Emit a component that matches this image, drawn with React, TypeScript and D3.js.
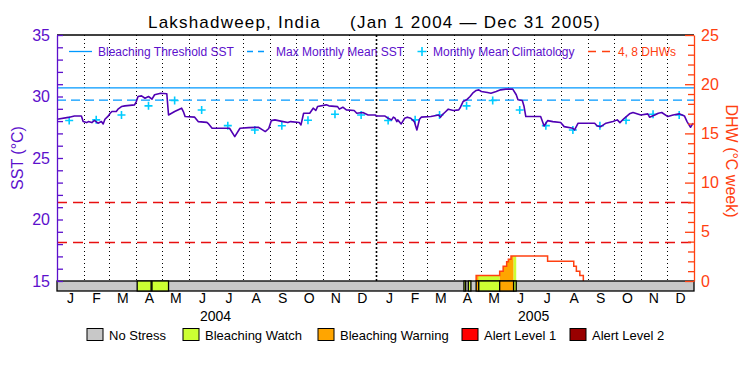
import React, { useRef, useEffect } from 'react';
import * as d3 from 'd3';

// daily SST at its turning points
const sstPoints: [string, number][] = [
  ['2004-01-01', 28.15], ['2004-01-14', 28.3], ['2004-01-21', 28.42], ['2004-01-29', 28.42],
  ['2004-01-31', 27.96], ['2004-02-04', 27.88], ['2004-02-06', 27.96], ['2004-02-10', 27.88],
  ['2004-02-13', 28.05], ['2004-02-17', 27.83], ['2004-02-21', 27.96], ['2004-02-23', 27.77],
  ['2004-02-25', 28.15], ['2004-02-29', 28.42], ['2004-03-02', 28.64], ['2004-03-04', 28.78],
  ['2004-03-09', 28.78], ['2004-03-11', 28.97], ['2004-03-15', 29.18], ['2004-03-19', 29.24],
  ['2004-03-30', 29.32], ['2004-04-01', 29.59], ['2004-04-03', 30.0], ['2004-04-07', 30.05],
  ['2004-04-11', 29.86], ['2004-04-15', 30.0], ['2004-04-19', 29.78], ['2004-04-22', 30.14],
  ['2004-04-29', 30.27], ['2004-05-06', 30.22], ['2004-05-08', 28.5], ['2004-05-15', 28.78],
  ['2004-05-23', 29.05], ['2004-05-25', 28.78], ['2004-05-27', 28.37], ['2004-06-07', 28.32],
  ['2004-06-11', 27.96], ['2004-06-21', 27.9], ['2004-06-23', 27.77], ['2004-06-27', 27.42],
  ['2004-07-17', 27.42], ['2004-07-23', 26.74], ['2004-07-29', 27.42], ['2004-08-08', 27.47],
  ['2004-08-19', 27.5], ['2004-08-23', 27.33], ['2004-08-27', 27.15], ['2004-08-31', 27.4],
  ['2004-09-03', 28.04], ['2004-09-07', 28.1], ['2004-09-15', 27.98], ['2004-09-22', 27.88],
  ['2004-09-25', 27.96], ['2004-10-05', 27.88], ['2004-10-07', 27.69], ['2004-10-10', 28.64],
  ['2004-10-17', 28.64], ['2004-10-21', 29.05], ['2004-10-24', 28.86], ['2004-10-26', 29.18],
  ['2004-11-05', 29.32], ['2004-11-08', 29.24], ['2004-11-18', 29.18], ['2004-11-20', 28.97],
  ['2004-11-24', 29.13], ['2004-11-28', 28.91], ['2004-12-07', 28.86], ['2004-12-10', 28.64],
  ['2004-12-17', 28.7], ['2004-12-23', 28.5], ['2004-12-31', 28.5],
  ['2005-01-02', 28.42], ['2005-01-11', 28.42], ['2005-01-15', 28.23], ['2005-01-19', 28.1],
  ['2005-01-21', 28.32], ['2005-01-23', 28.23], ['2005-01-25', 27.96], ['2005-01-26', 28.1],
  ['2005-01-30', 27.77], ['2005-02-03', 28.23], ['2005-02-06', 28.32], ['2005-02-10', 28.23],
  ['2005-02-14', 27.96], ['2005-02-17', 27.28], ['2005-02-20', 28.15], ['2005-02-22', 28.32],
  ['2005-03-05', 28.37], ['2005-03-14', 28.5], ['2005-03-16', 28.32], ['2005-03-18', 28.5],
  ['2005-03-21', 28.7], ['2005-03-25', 28.97], ['2005-03-31', 28.86], ['2005-04-06', 28.91],
  ['2005-04-08', 29.13], ['2005-04-11', 29.59], ['2005-04-15', 29.73], ['2005-04-19', 30.0],
  ['2005-04-22', 30.27], ['2005-04-26', 30.49], ['2005-04-29', 30.54], ['2005-05-02', 30.41],
  ['2005-05-09', 30.33], ['2005-05-13', 30.27], ['2005-05-19', 30.41], ['2005-05-24', 30.54],
  ['2005-05-30', 30.6], ['2005-06-07', 30.6], ['2005-06-11', 30.14], ['2005-06-13', 29.73],
  ['2005-06-18', 29.67], ['2005-06-20', 29.18], ['2005-06-22', 28.37], ['2005-07-09', 28.37],
  ['2005-07-13', 27.6], ['2005-07-17', 28.04], ['2005-07-23', 27.96], ['2005-08-01', 27.88],
  ['2005-08-05', 27.55], ['2005-08-15', 27.42], ['2005-08-17', 27.28], ['2005-08-21', 27.83],
  ['2005-09-09', 27.83], ['2005-09-12', 27.6], ['2005-09-16', 27.55], ['2005-09-22', 27.83],
  ['2005-09-30', 27.96], ['2005-10-05', 28.1], ['2005-10-08', 27.88], ['2005-10-13', 28.23],
  ['2005-10-19', 28.59], ['2005-10-23', 28.7], ['2005-11-01', 28.5], ['2005-11-09', 28.59],
  ['2005-11-11', 28.32], ['2005-11-17', 28.5], ['2005-11-21', 28.64], ['2005-11-25', 28.7],
  ['2005-12-02', 28.37], ['2005-12-08', 28.5], ['2005-12-15', 28.59], ['2005-12-21', 28.42],
  ['2005-12-24', 27.96], ['2005-12-28', 27.5], ['2005-12-31', 27.83]
];

// monthly mean climatology, Jan..Dec
const climatology = [28.05, 28.1, 28.5, 29.24, 29.67, 28.9, 27.63, 27.28, 27.62, 28.07, 28.56, 28.5];
const years = [2004, 2005];
const monthLabels = ['J', 'F', 'M', 'A', 'M', 'J', 'J', 'A', 'S', 'O', 'N', 'D'];

const maxMonthlyMean = 29.7;
const bleachingThreshold = 30.7;
const dhwLevels = [4, 8];

// degree heating weeks (step values)
const dhwPoints: [string, number][] = [
  ['2005-04-25', 0], ['2005-04-26', 0.55], ['2005-05-23', 1.0], ['2005-05-27', 1.5],
  ['2005-05-31', 1.95], ['2005-06-02', 2.2], ['2005-06-05', 2.55], ['2005-07-17', 2.0],
  ['2005-08-16', 1.5], ['2005-08-19', 1.0], ['2005-08-23', 0.55], ['2005-08-27', 0]
];

// stress periods [start, end, level index]
const stressPeriods: [string, string, number][] = [
  ['2004-04-02', '2004-04-18', 1], ['2004-04-19', '2004-05-08', 1],
  ['2005-04-12', '2005-04-14', 1], ['2005-04-17', '2005-04-20', 1],
  ['2005-04-26', '2005-04-29', 2], ['2005-04-29', '2005-05-23', 1],
  ['2005-05-23', '2005-06-08', 2], ['2005-06-08', '2005-06-11', 1]
];

const stressLevels = ['No Stress', 'Bleaching Watch', 'Bleaching Warning', 'Alert Level 1', 'Alert Level 2'];
const stressColors = ['#c8c8c8', '#ccff33', '#ffa500', '#ff0000', '#990000'];

export default function App(): JSX.Element {
  const svgRef = useRef<SVGSVGElement>(null);

  useEffect(() => {
    const svgEle = svgRef.current;
    if (svgEle == null) {
      return;
    }
    const svg = d3.select(svgEle);
    svg.selectAll('*').remove();

    const purple = '#5c10cc';
    const lineColor = '#5000b4';
    const orange = '#ff4010';
    const blue = '#0099ff';
    const cyan = '#00ccff';
    const font = 'Liberation Sans, Arial, sans-serif';

    const left = 57;
    const right = 694;
    const top = 35;
    const bottom = 281;
    const barH = 10;

    const parse = d3.timeParse('%Y-%m-%d');
    const x = d3
      .scaleTime()
      .domain([new Date(2004, 0, 1), new Date(2006, 0, 1)])
      .range([left, right]);
    const ySst = d3.scaleLinear().domain([15, 35]).range([bottom, top]);
    const yDhw = d3.scaleLinear().domain([0, 25]).range([bottom, top]);

    svg.append('rect').attr('width', 750).attr('height', 375).attr('fill', '#fff');

    // title
    svg
      .append('text')
      .attr('x', 148)
      .attr('y', 28)
      .attr('font-family', font)
      .attr('font-size', 17)
      .attr('letter-spacing', 1.2)
      .text('Lakshadweep, India');
    svg
      .append('text')
      .attr('x', 350)
      .attr('y', 28)
      .attr('font-family', font)
      .attr('font-size', 17)
      .attr('letter-spacing', 1.25)
      .text('(Jan 1 2004 \u2014 Dec 31 2005)');

    // month grid
    const monthStarts = d3.timeMonth.range(new Date(2004, 1, 1), new Date(2006, 0, 1));
    svg
      .selectAll()
      .data(monthStarts)
      .join('line')
      .attr('x1', (d) => Math.round(x(d)) + 0.5)
      .attr('x2', (d) => Math.round(x(d)) + 0.5)
      .attr('y1', top)
      .attr('y2', bottom)
      .attr('stroke', '#000')
      .attr('stroke-width', (d) => (d.getMonth() === 0 ? 1.6 : 1))
      .attr('stroke-dasharray', (d) => (d.getMonth() === 0 ? '2,2' : '1,3'));

    // DHW reference lines
    svg
      .selectAll()
      .data(dhwLevels)
      .join('line')
      .attr('x1', left)
      .attr('x2', right)
      .attr('y1', (d) => Math.round(yDhw(d)) + 0.5)
      .attr('y2', (d) => Math.round(yDhw(d)) + 0.5)
      .attr('stroke', '#e81010')
      .attr('stroke-width', 1.3)
      .attr('stroke-dasharray', '10,6');

    // threshold + MMM
    svg
      .append('line')
      .attr('x1', left)
      .attr('x2', right)
      .attr('y1', ySst(bleachingThreshold))
      .attr('y2', ySst(bleachingThreshold))
      .attr('stroke', blue)
      .attr('stroke-width', 1.3);
    svg
      .append('line')
      .attr('x1', left)
      .attr('x2', right)
      .attr('y1', ySst(maxMonthlyMean))
      .attr('y2', ySst(maxMonthlyMean))
      .attr('stroke', blue)
      .attr('stroke-width', 1.3)
      .attr('stroke-dasharray', '9,5');

    // DHW fill by stress level
    const dhw = dhwPoints.map(([d, v]) => ({ date: parse(d) as Date, v }));
    const area = d3
      .area<{ date: Date; v: number }>()
      .x((d) => x(d.date))
      .y0(yDhw(0))
      .y1((d) => yDhw(d.v))
      .curve(d3.curveStepAfter);
    stressPeriods.forEach(([s, e, lvl], i) => {
      const id = `clip-${i}`;
      svg
        .append('clipPath')
        .attr('id', id)
        .append('rect')
        .attr('x', x(parse(s) as Date))
        .attr('width', x(parse(e) as Date) - x(parse(s) as Date))
        .attr('y', top)
        .attr('height', bottom - top);
      svg
        .append('path')
        .datum(dhw)
        .attr('d', area)
        .attr('fill', stressColors[lvl])
        .attr('clip-path', `url(#${id})`);
    });
    svg
      .append('path')
      .datum(dhw)
      .attr(
        'd',
        d3
          .line<{ date: Date; v: number }>()
          .x((d) => x(d.date))
          .y((d) => yDhw(d.v))
          .curve(d3.curveStepAfter)
      )
      .attr('fill', 'none')
      .attr('stroke', orange)
      .attr('stroke-width', 1.5);

    // climatology crosses
    const climPts = years.flatMap((yr) =>
      climatology.map((v, m) => ({ date: new Date(yr, m, 15), v }))
    );
    svg
      .selectAll()
      .data(climPts)
      .join('path')
      .attr('transform', (d) => `translate(${x(d.date)},${ySst(d.v)})`)
      .attr('d', 'M-4,0H4M0,-4V4')
      .attr('stroke', cyan)
      .attr('stroke-width', 1.6)
      .attr('fill', 'none');

    // SST line
    const sst = sstPoints.map(([d, v]) => ({ date: parse(d) as Date, v }));
    svg
      .append('path')
      .datum(sst)
      .attr(
        'd',
        d3
          .line<{ date: Date; v: number }>()
          .x((d) => x(d.date))
          .y((d) => ySst(d.v))
      )
      .attr('fill', 'none')
      .attr('stroke', lineColor)
      .attr('stroke-width', 1.6)
      .attr('stroke-linejoin', 'round');

    // stress bar
    svg
      .append('rect')
      .attr('x', left)
      .attr('y', bottom)
      .attr('width', right - left)
      .attr('height', barH)
      .attr('fill', stressColors[0])
      .attr('stroke', '#000')
      .attr('stroke-width', 1.3);
    svg
      .selectAll()
      .data(stressPeriods)
      .join('rect')
      .attr('x', (d) => x(parse(d[0]) as Date))
      .attr('y', bottom)
      .attr('width', (d) => x(parse(d[1]) as Date) - x(parse(d[0]) as Date))
      .attr('height', barH)
      .attr('fill', (d) => stressColors[d[2]])
      .attr('stroke', '#000')
      .attr('stroke-width', 1.3);

    // frame top
    svg
      .append('line')
      .attr('x1', left)
      .attr('x2', right)
      .attr('y1', top)
      .attr('y2', top)
      .attr('stroke', '#000')
      .attr('stroke-width', 1.3);

    // left axis
    const gL = svg
      .append('g')
      .attr('transform', `translate(${left},0)`)
      .call(
        d3
          .axisLeft(ySst)
          .tickValues(d3.range(15, 36))
          .tickSizeInner(-6)
          .tickSizeOuter(0)
          .tickPadding(7)
          .tickFormat((d) => (+d % 5 === 0 ? String(d) : ''))
      );
    gL.selectAll('path, line').attr('stroke', purple).attr('stroke-width', 1.3);
    gL.selectAll('text').attr('fill', purple).attr('font-size', 16).attr('font-family', font);

    // right axis
    const gR = svg
      .append('g')
      .attr('transform', `translate(${right},0)`)
      .call(
        d3
          .axisRight(yDhw)
          .tickValues(d3.range(0, 26))
          .tickSizeInner(-6)
          .tickSizeOuter(0)
          .tickPadding(7)
          .tickFormat((d) => (+d % 5 === 0 ? String(d) : ''))
      );
    gR.selectAll('path, line').attr('stroke', orange).attr('stroke-width', 1.3);
    gR.selectAll('.tick line').attr('x2', (d) => (+(d as number) % 5 === 0 ? -9 : -6));
    gR.selectAll('text').attr('fill', orange).attr('font-size', 16).attr('font-family', font);

    // axis titles
    svg
      .append('text')
      .attr('transform', 'translate(23,158) rotate(-90)')
      .attr('text-anchor', 'middle')
      .attr('fill', purple)
      .attr('font-family', font)
      .attr('font-size', 16)
      .text('SST (\u00b0C)');
    svg
      .append('text')
      .attr('transform', 'translate(726,161) rotate(90)')
      .attr('text-anchor', 'middle')
      .attr('fill', orange)
      .attr('font-family', font)
      .attr('font-size', 16)
      .text('DHW (\u00b0C week)');

    // month + year labels
    const monthMids = years.flatMap((yr) =>
      monthLabels.map((lab, m) => ({
        lab,
        mid: new Date((+new Date(yr, m, 1) + +new Date(yr, m + 1, 1)) / 2)
      }))
    );
    svg
      .selectAll()
      .data(monthMids)
      .join('text')
      .attr('x', (d) => x(d.mid))
      .attr('y', 303)
      .attr('text-anchor', 'middle')
      .attr('font-family', font)
      .attr('font-size', 14)
      .text((d) => d.lab);
    svg
      .selectAll()
      .data(years)
      .join('text')
      .attr('x', (d) => x(new Date(d, 6, 1)))
      .attr('y', 321)
      .attr('text-anchor', 'middle')
      .attr('font-family', font)
      .attr('font-size', 14)
      .text((d) => String(d));

    // top legend
    const lg = svg.append('g').attr('font-family', font).attr('font-size', 12);
    lg.append('line').attr('x1', 69).attr('x2', 92).attr('y1', 51.5).attr('y2', 51.5).attr('stroke', blue).attr('stroke-width', 1.3);
    lg.append('text').attr('x', 98).attr('y', 55.5).attr('fill', purple).text('Bleaching Threshold SST');
    lg.append('line').attr('x1', 247).attr('x2', 264).attr('y1', 51.5).attr('y2', 51.5).attr('stroke', blue).attr('stroke-width', 1.3).attr('stroke-dasharray', '6,5');
    lg.append('text').attr('x', 276).attr('y', 55.5).attr('fill', purple).text('Max Monthly Mean SST');
    lg.append('path').attr('d', 'M417.5,51.5H426.5M422,47V56').attr('stroke', cyan).attr('stroke-width', 1.6);
    lg.append('text').attr('x', 433).attr('y', 55.5).attr('fill', purple).text('Monthly Mean Climatology');
    lg.append('line').attr('x1', 588).attr('x2', 612).attr('y1', 51.5).attr('y2', 51.5).attr('stroke', orange).attr('stroke-width', 1.3).attr('stroke-dasharray', '8,6');
    lg.append('text').attr('x', 618).attr('y', 55.5).attr('fill', orange).text('4, 8 DHWs');

    // bottom legend
    const boxX = [87, 183, 318, 462, 570];
    const bl = svg.append('g').attr('font-family', font).attr('font-size', 13);
    stressLevels.forEach((lab, i) => {
      bl.append('rect')
        .attr('x', boxX[i])
        .attr('y', 328.5)
        .attr('width', 16)
        .attr('height', 12)
        .attr('fill', stressColors[i])
        .attr('stroke', '#000')
        .attr('stroke-width', 1);
      bl.append('text').attr('x', boxX[i] + 22).attr('y', 340).text(lab);
    });
  }, []);

  return (
    <svg
      ref={svgRef}
      width={750}
      height={375}
      style={{ position: 'absolute', left: 0, top: 0, display: 'block' }}
    />
  );
}
